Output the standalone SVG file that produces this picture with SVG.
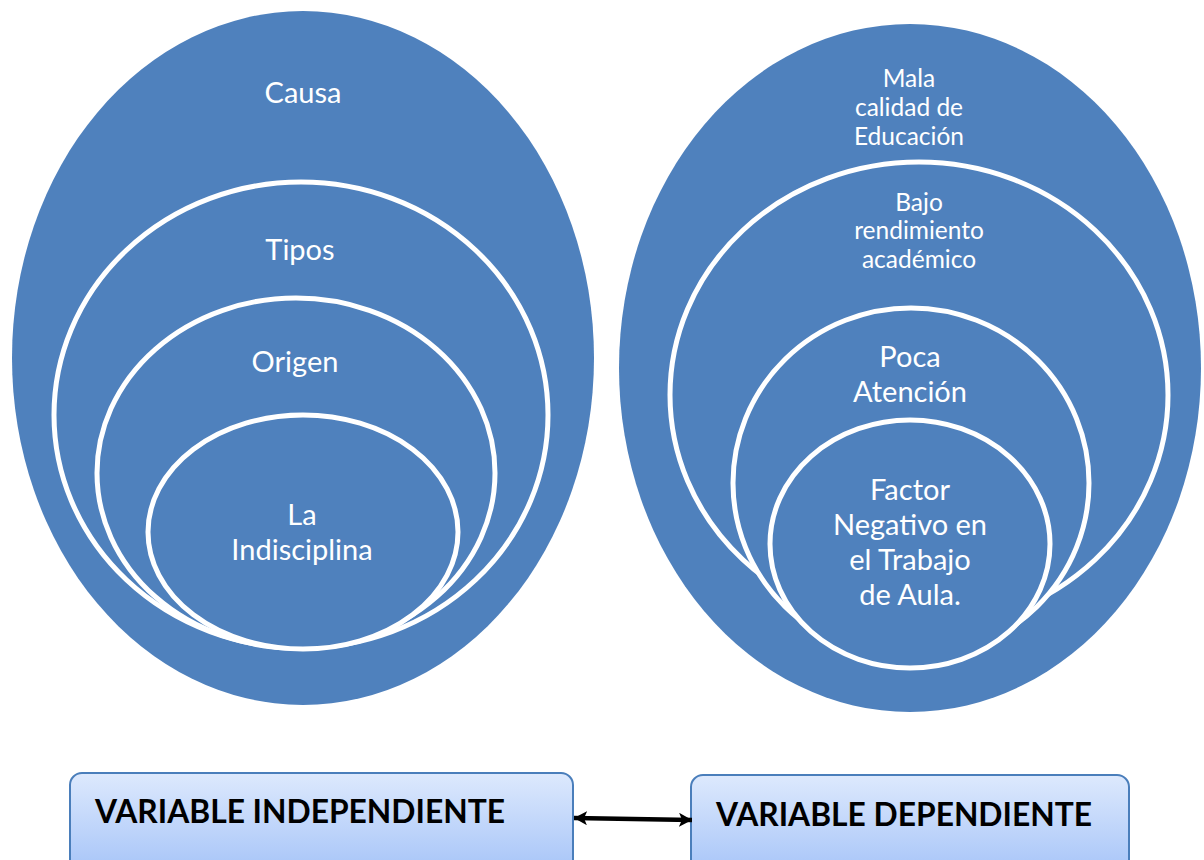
<svg xmlns="http://www.w3.org/2000/svg" width="1204" height="860" viewBox="0 0 1204 860">
<defs>
<linearGradient id="boxg" x1="0" y1="0" x2="0" y2="1">
<stop offset="0" stop-color="#dde9fd"/>
<stop offset="1" stop-color="#a6c4f8"/>
</linearGradient>
<marker id="ah" viewBox="0 0 13 14" refX="13" refY="7" markerWidth="13" markerHeight="14" orient="auto-start-reverse" markerUnits="userSpaceOnUse">
<path d="M0,0 L13,7 L0,14 L3,7 Z" fill="#000"/>
</marker>
</defs>
<style>
.outer{fill:#4f81bd;}
.ring{fill:#4f81bd;stroke:#fff;stroke-width:5;}
.t{font-family:Lato,"Open Sans","Noto Sans",sans-serif;fill:#fff;text-anchor:middle;}
.t30{font-size:29px;}
.t25{font-size:24.5px;}
.box{fill:url(#boxg);stroke:#4a7ebb;stroke-width:2;}
.bt{font-family:Lato,"Liberation Sans",sans-serif;font-weight:bold;font-size:32px;fill:#000;}
</style>
<rect width="1204" height="860" fill="#fff"/>
<g id="left-causa">
<ellipse class="outer" cx="303" cy="358" rx="291" ry="347"/>
<text class="t t30" x="303" y="103">Causa</text>
</g>
<g id="left-tipos">
<ellipse class="ring" cx="301" cy="415" rx="247" ry="233"/>
<text class="t t30" x="300" y="260">Tipos</text>
</g>
<g id="left-origen">
<ellipse class="ring" cx="296" cy="473" rx="199" ry="175"/>
<text class="t t30" x="295" y="372">Origen</text>
</g>
<g id="left-indisciplina">
<ellipse class="ring" cx="303" cy="532" rx="155" ry="117"/>
<text class="t t30" x="302" y="525">La</text>
<text class="t t30" x="302" y="560">Indisciplina</text>
</g>
<g id="right-mala">
<ellipse class="outer" cx="910" cy="368" rx="291" ry="344"/>
<text class="t t25" x="909" y="87">Mala</text>
<text class="t t25" x="909" y="116">calidad de</text>
<text class="t t25" x="909" y="145">Educación</text>
</g>
<g id="right-bajo">
<ellipse class="ring" cx="919" cy="395" rx="249" ry="233"/>
<text class="t t25" x="919" y="211">Bajo</text>
<text class="t t25" x="919" y="239">rendimiento</text>
<text class="t t25" x="919" y="268">académico</text>
</g>
<g id="right-poca">
<ellipse class="ring" cx="911" cy="483" rx="178" ry="175"/>
<text class="t t30" x="910" y="367">Poca</text>
<text class="t t30" x="910" y="402">Atención</text>
</g>
<g id="right-factor">
<ellipse class="ring" cx="910" cy="544" rx="140" ry="124"/>
<text class="t t30" x="910" y="500">Factor</text>
<text class="t t30" x="910" y="535">Negativo en</text>
<text class="t t30" x="910" y="570">el Trabajo</text>
<text class="t t30" x="910" y="605">de Aula.</text>
</g>
<g id="var-independiente">
<rect class="box" x="70" y="773" width="503" height="100" rx="12"/>
<text class="bt" x="95" y="823" textLength="410" lengthAdjust="spacingAndGlyphs">VARIABLE INDEPENDIENTE</text>
</g>
<g id="var-dependiente">
<rect class="box" x="691" y="775" width="438" height="100" rx="12"/>
<text class="bt" x="716" y="826" textLength="376" lengthAdjust="spacingAndGlyphs">VARIABLE DEPENDIENTE</text>
</g>
<g id="connectors">
<line x1="574" y1="818" x2="692" y2="820" stroke="#000" stroke-width="4.5" marker-start="url(#ah)" marker-end="url(#ah)"/>
</g>
</svg>
